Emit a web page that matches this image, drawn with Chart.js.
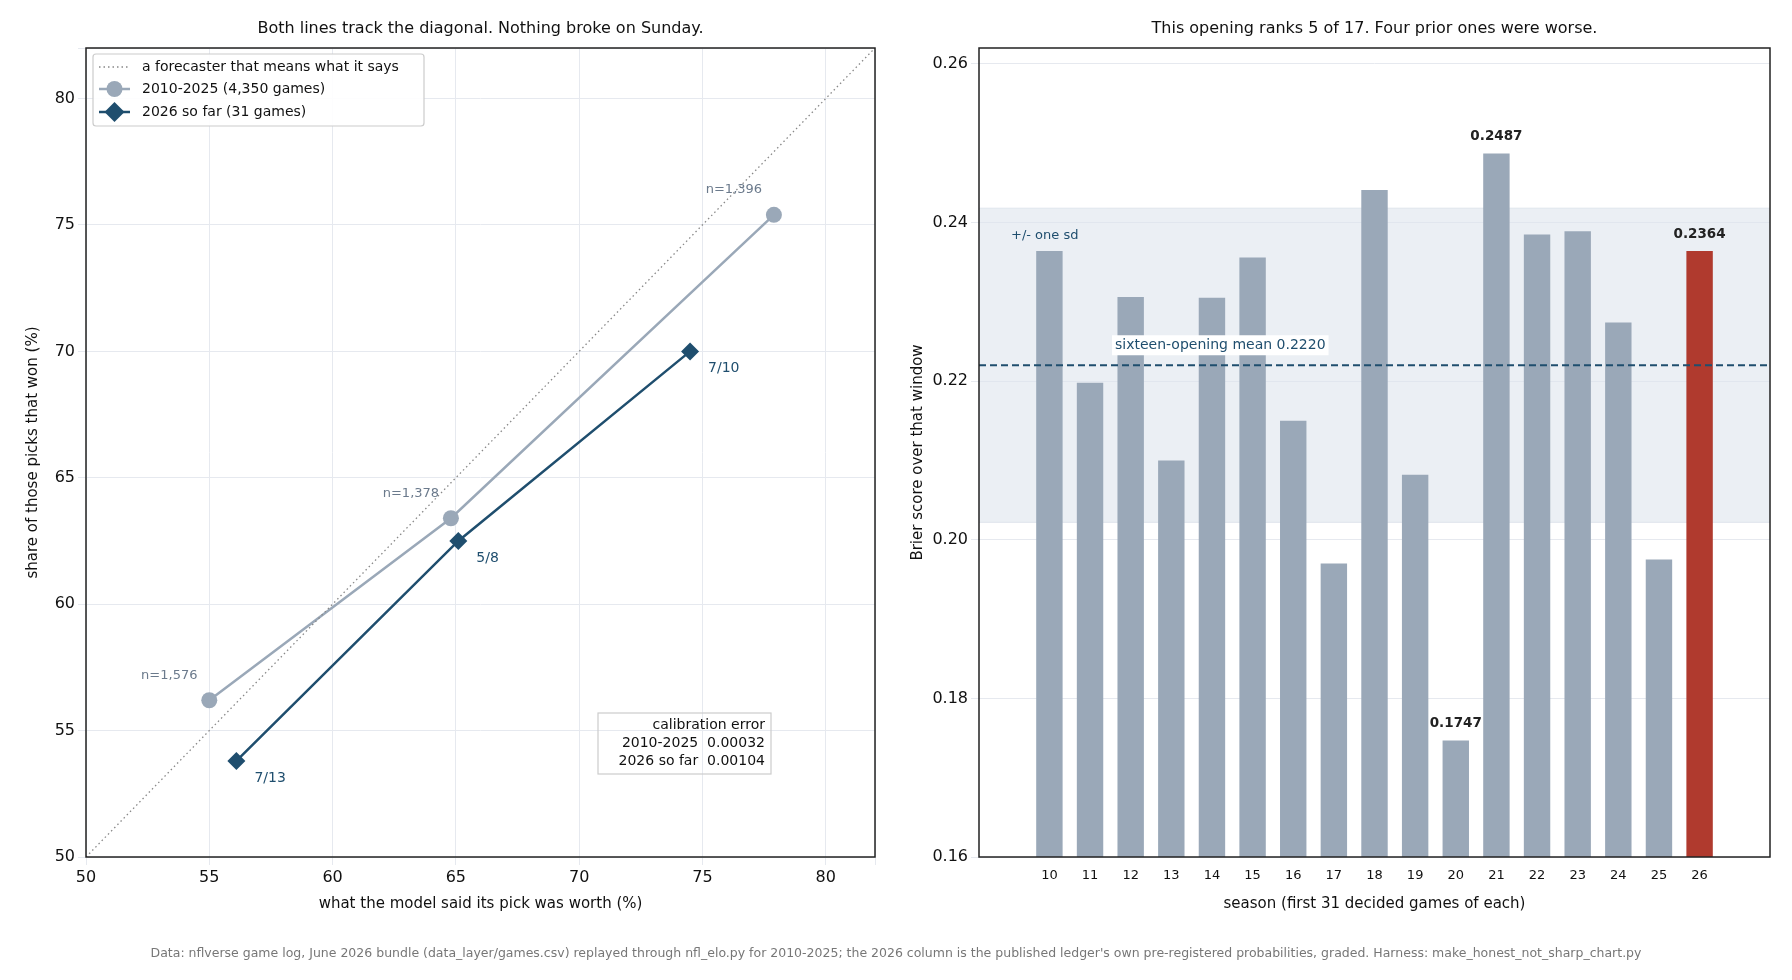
<!DOCTYPE html>
<html><head><meta charset="utf-8">
<script src="https://cdn.jsdelivr.net/npm/chart.js@4/dist/chart.umd.min.js"></script>
<style>html,body{margin:0;background:#fff;width:1792px;height:980px;overflow:hidden}
canvas{position:absolute;left:0;top:0}</style></head>
<body><canvas id="c1" width="1792" height="980"></canvas><canvas id="c2" width="1792" height="980"></canvas>
<script>
const histX=[55.0,64.8,77.9], histY=[56.2,63.4,75.4], histN=['n=1,576','n=1,378','n=1,396'];
const curX=[56.1,65.1,74.5], curY=[53.8,62.5,70.0], curLbl=['7/13','5/8','7/10'];
const diag=[50,82];
const seasons=[10,11,12,13,14,15,16,17,18,19,20,21,22,23,24,25,26];
const brier=[0.2364,0.2198,0.2306,0.2100,0.2305,0.2356,0.2150,0.1970,0.2441,0.2082,0.1747,0.2487,0.2385,0.2389,0.2274,0.1975,0.2364];
const meanB=0.2220, sdLo=0.2022, sdHi=0.2418;
const labelled=[20,21,26];
const FONT='"DejaVu Sans", sans-serif';
const GREY='#9aa8b8', NAVY='#1f4e6e', RED='#b03a2e', GRID='#e6e9ef';
Chart.defaults.font.family=FONT; Chart.defaults.color='#111';
const fw=(w)=>function(a){a.width=w;}, fh=(h)=>function(a){a.height=h;};
const boxPlug={id:'box',afterDraw(c){const a=c.chartArea,x=c.ctx;x.save();x.strokeStyle='#222';x.lineWidth=1.5;x.strokeRect(a.left,a.top,a.right-a.left,a.bottom-a.top);x.restore();}};
function txt(x,s,px,py,opt){x.save();x.font=(opt.bold?'bold ':'')+opt.size+'px '+FONT;x.fillStyle=opt.color||'#111';x.textAlign=opt.align||'center';x.textBaseline='middle';x.fillText(s,px,py);x.restore();}

new Chart(document.getElementById('c1'),{type:'scatter',
data:{datasets:[
 {label:'diag',data:diag.map(v=>({x:v,y:v})),showLine:true,borderColor:'#888',borderWidth:1.3,borderDash:[1.5,3],pointRadius:0},
 {label:'hist',data:histX.map((v,i)=>({x:v,y:histY[i]})),showLine:true,borderColor:GREY,backgroundColor:GREY,borderWidth:2.5,pointRadius:8,pointBorderWidth:0},
 {label:'cur',data:curX.map((v,i)=>({x:v,y:curY[i]})),showLine:true,borderColor:NAVY,backgroundColor:NAVY,borderWidth:2.5,pointStyle:'rectRot',pointRadius:9,pointBorderWidth:0}]},
options:{responsive:false,animation:false,layout:{padding:{left:20,top:48,right:917,bottom:63}},
 plugins:{legend:{display:false},tooltip:{enabled:false}},
 scales:{x:{type:'linear',min:50,max:82,afterFit:fh(60),grid:{color:GRID},border:{display:false},ticks:{stepSize:5,font:{size:16},color:'#111',callback:v=>v%5===0&&v<=80?v:''},title:{display:true,text:'what the model said its pick was worth (%)',font:{size:15},padding:{top:4}}},
  y:{type:'linear',min:50,max:82,afterFit:fw(66),grid:{color:GRID},border:{display:false},ticks:{stepSize:5,font:{size:16},color:'#111',callback:v=>v%5===0&&v<=80?v:''},title:{display:true,text:'share of those picks that won (%)',font:{size:15}}}}},
plugins:[boxPlug,{id:'ann1',afterDraw(c){const x=c.ctx,sx=c.scales.x,sy=c.scales.y;
 txt(x,'Both lines track the diagonal. Nothing broke on Sunday.',(c.chartArea.left+c.chartArea.right)/2,29,{size:16});
 histX.forEach((v,i)=>txt(x,histN[i],sx.getPixelForValue(v)-40,sy.getPixelForValue(histY[i])-25,{size:13,color:'#6b7a8c'}));
 curX.forEach((v,i)=>txt(x,curLbl[i],sx.getPixelForValue(v)+18,sy.getPixelForValue(curY[i])+17,{size:14,color:NAVY,align:'left'}));
 // legend
 x.save();x.fillStyle='rgba(255,255,255,0.9)';x.strokeStyle='#ccc';x.lineWidth=1.2;x.beginPath();x.roundRect(93,54,331,72,3);x.fill();x.stroke();
 x.strokeStyle='#888';x.setLineDash([1.5,3]);x.lineWidth=1.3;x.beginPath();x.moveTo(99,67);x.lineTo(130,67);x.stroke();x.setLineDash([]);
 x.strokeStyle=GREY;x.lineWidth=2.5;x.beginPath();x.moveTo(99,89);x.lineTo(130,89);x.stroke();x.fillStyle=GREY;x.beginPath();x.arc(114.5,89,8,0,7);x.fill();
 x.strokeStyle=NAVY;x.beginPath();x.moveTo(99,112);x.lineTo(130,112);x.stroke();x.fillStyle=NAVY;x.beginPath();x.moveTo(114.5,102);x.lineTo(124.5,112);x.lineTo(114.5,122);x.lineTo(104.5,112);x.closePath();x.fill();x.restore();
 txt(x,'a forecaster that means what it says',142,67,{size:14,align:'left'});
 txt(x,'2010-2025 (4,350 games)',142,89,{size:14,align:'left'});
 txt(x,'2026 so far (31 games)',142,112,{size:14,align:'left'});
 // calibration box
 x.save();x.fillStyle='#fff';x.strokeStyle='#ccc';x.lineWidth=1.2;x.strokeRect(598,713,173,61);x.restore();
 txt(x,'calibration error',765,725,{size:14,align:'right'});
 txt(x,'2010-2025  0.00032',765,743,{size:14,align:'right'});
 txt(x,'2026 so far  0.00104',765,761,{size:14,align:'right'});
 txt(x,"Data: nflverse game log, June 2026 bundle (data_layer/games.csv) replayed through nfl_elo.py for 2010-2025; the 2026 column is the published ledger's own pre-registered probabilities, graded. Harness: make_honest_not_sharp_chart.py",896,954,{size:12.5,color:'#777'});
}}]});

new Chart(document.getElementById('c2'),{type:'bar',
data:{datasets:[{data:seasons.map((s,i)=>({x:s,y:brier[i]})),backgroundColor:seasons.map(s=>s===26?RED:GREY),barPercentage:0.65,categoryPercentage:1,borderWidth:0}]},
options:{responsive:false,animation:false,layout:{padding:{left:905,top:48,right:22,bottom:63}},
 plugins:{legend:{display:false},tooltip:{enabled:false}},
 scales:{x:{type:'linear',min:8.84,max:27.16,afterFit:fh(60),grid:{display:false},border:{display:false},afterBuildTicks(a){a.ticks=seasons.map(v=>({value:v}));},ticks:{font:{size:13},color:'#111',autoSkip:false,maxRotation:0},title:{display:true,text:'season (first 31 decided games of each)',font:{size:15},padding:{top:2}}},
  y:{min:0.16,max:0.262,afterFit:fw(74),grid:{color:GRID},border:{display:false},afterBuildTicks(a){a.ticks=[0.16,0.18,0.20,0.22,0.24,0.26].map(v=>({value:v}));},ticks:{font:{size:16},color:'#111',callback:v=>v.toFixed(2)},title:{display:true,text:'Brier score over that window',font:{size:15}}}}},
plugins:[boxPlug,{id:'ann2',beforeDatasetsDraw(c){const x=c.ctx,a=c.chartArea,sy=c.scales.y;const t=sy.getPixelForValue(sdHi),b=sy.getPixelForValue(sdLo);
 x.save();x.fillStyle='rgba(222,228,236,0.6)';x.fillRect(a.left,t,a.right-a.left,b-t);x.strokeStyle='#dfe5ec';x.lineWidth=1;x.beginPath();x.moveTo(a.left,t);x.lineTo(a.right,t);x.moveTo(a.left,b);x.lineTo(a.right,b);x.stroke();x.restore();},
 afterDatasetsDraw(c){const x=c.ctx,a=c.chartArea,sx=c.scales.x,sy=c.scales.y;const m=sy.getPixelForValue(meanB);
 x.save();x.strokeStyle=NAVY;x.lineWidth=2;x.setLineDash([7,4]);x.beginPath();x.moveTo(a.left,m);x.lineTo(a.right,m);x.stroke();x.restore();
 x.save();x.font='14px '+FONT;const s='sixteen-opening mean 0.2220';const w=x.measureText(s).width;x.fillStyle='#fff';x.fillRect(a.left+133,m-30,w+6,20);x.restore();
 txt(x,s,a.left+136,m-20,{size:14,color:NAVY,align:'left'});
 txt(x,'+/- one sd',a.left+32,sy.getPixelForValue(sdHi)+27,{size:13,color:NAVY,align:'left'});
 labelled.forEach(s=>{const i=seasons.indexOf(s);txt(x,brier[i].toFixed(4),sx.getPixelForValue(s),sy.getPixelForValue(brier[i])-17,{size:13.5,bold:true,color:'#222'});});
 txt(x,'This opening ranks 5 of 17. Four prior ones were worse.',(a.left+a.right)/2,29,{size:16});
}}]});
</script></body></html>
